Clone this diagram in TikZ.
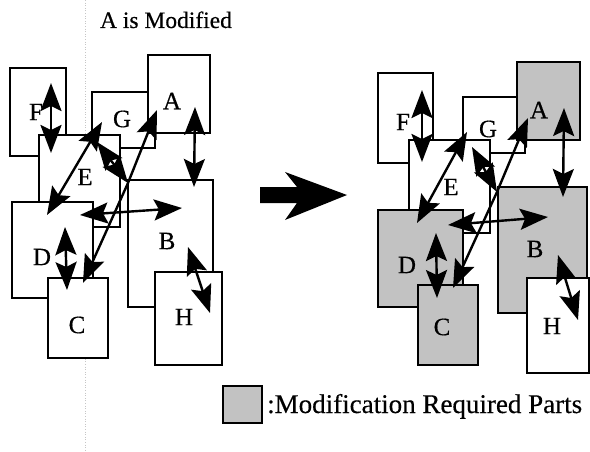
\documentclass[tikz,border=0pt]{standalone}
\usepackage{fontspec}
\setmainfont{Liberation Serif}[FakeBold=0.4]
\usetikzlibrary{arrows.meta}
\tikzset{
  box/.style={draw, line width=2pt, fill=white, inner sep=0pt, outer sep=0pt, anchor=north west},
  modbox/.style={box, fill=black!24},
  lbl/.style={font=\fontsize{25}{25}\selectfont, inner sep=0pt},
  bigtip/.tip={Stealth[length=28pt,width=21pt,inset=5pt]},
  dbl/.style={line width=2.4pt, bigtip-bigtip},
  sgl/.style={line width=2.4pt, -bigtip},
}
\begin{document}
\begin{tikzpicture}[x=1pt,y=-1pt]
\useasboundingbox (0,0) rectangle (590,452);
% faint scan line
\draw[gray!45, dotted, line width=0.6pt] (85,0) -- (85,452);
% title
\node[font=\fontsize{23.5}{24}\selectfont, anchor=base, inner sep=0pt] (title) at (166,28) {A is Modified};

% ---------- left panel ----------
\node[box, minimum width=56pt, minimum height=88pt] (lF) at (10,68) {};
\node[box, minimum width=63pt, minimum height=56pt] (lG) at (92,92) {};
\node[box, minimum width=62pt, minimum height=78pt] (lA) at (148,55) {};
\node[box, minimum width=81pt, minimum height=92pt] (lE) at (39,135) {};
\node[box, minimum width=81pt, minimum height=96pt] (lD) at (12,202) {};
\node[box, minimum width=60pt, minimum height=80pt] (lC) at (48,278) {};
\node[box, minimum width=85pt, minimum height=127pt] (lB) at (128,180) {};
\node[box, minimum width=67pt, minimum height=93pt] (lH) at (155,272) {};
\node[lbl] (tlF) at (36,112) {F};
\node[lbl] (tlG) at (122,119) {G};
\node[lbl] (tlA) at (172,101) {A};
\node[lbl] (tlE) at (85,177) {E};
\node[lbl] (tlD) at (42,257) {D};
\node[lbl] (tlB) at (167,241) {B};
\node[lbl] (tlC) at (77,325) {C};
\node[lbl] (tlH) at (184,317) {H};
\coordinate (lF1) at (51,83);  \coordinate (lF2) at (51,153);
\coordinate (lAB1) at (195,107); \coordinate (lAB2) at (194,187);
\coordinate (lGD1) at (102,122); \coordinate (lGD2) at (47,215);
\coordinate (lhub) at (128,183);
\coordinate (lEt) at (97,142);
\coordinate (lAt) at (157,110);
\coordinate (lCt) at (83,283);
\coordinate (lh1) at (80,215); \coordinate (lh2) at (182,208);
\coordinate (lDC1) at (65,227); \coordinate (lDC2) at (67,290);
\coordinate (lBH1) at (188,247); \coordinate (lBH2) at (210,313);
\draw[dbl] (lF1) -- (lF2);
\draw[dbl] (lAB1) -- (lAB2);
\draw[dbl] (lGD1) -- (lGD2);
\draw[dbl] (lhub) -- (lEt);
\draw[sgl] (lhub) -- (lAt);
\draw[sgl] (lhub) -- (lCt);
\draw[dbl] (lh1) -- (lh2);
\draw[dbl] (lDC1) -- (lDC2);
\draw[dbl] (lBH1) -- (lBH2);

% ---------- big arrow ----------
\fill (260,187) -- (297,187) -- (285,172) -- (347,195) -- (285,220) -- (297,203) -- (260,203) -- cycle;

% ---------- right panel ----------
\node[box, minimum width=55pt, minimum height=90pt] (rF) at (378,73) {};
\node[box, minimum width=62pt, minimum height=56pt] (rG) at (463,97) {};
\node[modbox, minimum width=63pt, minimum height=78pt] (rA) at (517,62) {};
\node[box, minimum width=81pt, minimum height=93pt] (rE) at (409,140) {};
\node[modbox, minimum width=85pt, minimum height=97pt] (rD) at (378,210) {};
\node[modbox, minimum width=60pt, minimum height=80pt] (rC) at (418,285) {};
\node[modbox, minimum width=89pt, minimum height=126pt] (rB) at (498,187) {};
\node[box, minimum width=62pt, minimum height=95pt] (rH) at (527,278) {};
\node[lbl] (trF) at (403,122) {F};
\node[lbl] (trG) at (488,129) {G};
\node[lbl] (trA) at (539,110) {A};
\node[lbl] (trE) at (451,187) {E};
\node[lbl] (trD) at (407,265) {D};
\node[lbl] (trB) at (535,249) {B};
\node[lbl] (trC) at (442,327) {C};
\node[lbl] (trH) at (552,326) {H};
\coordinate (rF1) at (422,90);  \coordinate (rF2) at (422,162);
\coordinate (rAB1) at (564,108); \coordinate (rAB2) at (563,197);
\coordinate (rGD1) at (467,132); \coordinate (rGD2) at (417,223);
\coordinate (rhub) at (497,192);
\coordinate (rEt) at (472,147);
\coordinate (rAt) at (528,118);
\coordinate (rCt) at (453,288);
\coordinate (rh1) at (448,225); \coordinate (rh2) at (548,217);
\coordinate (rDC1) at (436,233); \coordinate (rDC2) at (437,298);
\coordinate (rBH1) at (558,255); \coordinate (rBH2) at (578,320);
\draw[dbl] (rF1) -- (rF2);
\draw[dbl] (rAB1) -- (rAB2);
\draw[dbl] (rGD1) -- (rGD2);
\draw[dbl] (rhub) -- (rEt);
\draw[sgl] (rhub) -- (rAt);
\draw[sgl] (rhub) -- (rCt);
\draw[dbl] (rh1) -- (rh2);
\draw[dbl] (rDC1) -- (rDC2);
\draw[dbl] (rBH1) -- (rBH2);

% ---------- legend ----------
\node[modbox, minimum width=39pt, minimum height=37pt] (leg) at (223,386) {};
\node[font=\fontsize{27}{27}\selectfont, anchor=base west, inner sep=0pt] (legtext) at (267,413) {:Modification Required Parts};
\end{tikzpicture}
\end{document}
